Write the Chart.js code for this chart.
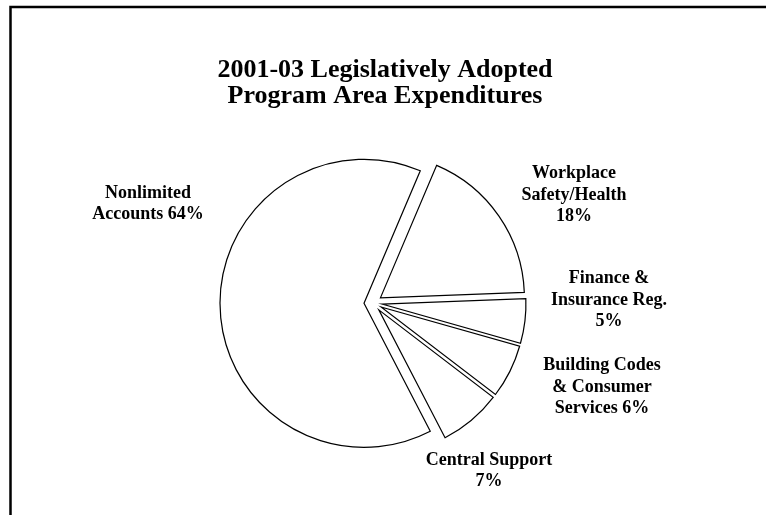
<!DOCTYPE html>
<html>
<head>
<meta charset="utf-8">
<script src="https://cdn.jsdelivr.net/npm/chart.js@4.4.1/dist/chart.umd.min.js"></script>
<style>
  html, body { margin: 0; padding: 0; background: #fff; }
  #wrap { position: relative; width: 766px; height: 515px; }
</style>
</head>
<body>
<div id="wrap"><canvas id="pie" width="766" height="515"></canvas></div>
<script>
// 2001-03 program area shares (percent of total)
const categories = [
  "Workplace Safety/Health",
  "Finance & Insurance Reg.",
  "Building Codes & Consumer Services",
  "Central Support",
  "Nonlimited Accounts",
];
const shares = [18, 5, 6, 7, 64];

// how each slice label breaks into lines; {v} is the share
const labelText = [
  "Workplace\nSafety/Health\n{v}%",
  "Finance &\nInsurance Reg.\n{v}%",
  "Building Codes\n& Consumer\nServices {v}%",
  "Central Support\n{v}%",
  "Nonlimited\nAccounts {v}%",
];

const titleLines = ["2001-03 Legislatively Adopted", "Program Area Expenditures"];

// label block centres, relative to the pie centre
const labelOffsets = [
  [201, -108],
  [236, -3],
  [229, 84],
  [116, 168],
  [-225, -99],
];

const serif = "'Liberation Serif', 'Times New Roman', serif";

// pie slice that is pulled straight out along its middle angle
class ExplodedArc extends Chart.ArcElement {
  draw(ctx) {
    const { x, y, startAngle, endAngle, outerRadius, options } = this;
    const mid = (startAngle + endAngle) / 2;
    const shift = options.offset || 0;
    ctx.save();
    ctx.translate(Math.cos(mid) * shift, Math.sin(mid) * shift);
    ctx.beginPath();
    ctx.moveTo(x, y);
    ctx.arc(x, y, outerRadius, startAngle, endAngle);
    ctx.closePath();
    ctx.fillStyle = options.backgroundColor;
    ctx.fill();
    ctx.lineWidth = options.borderWidth;
    ctx.strokeStyle = options.borderColor;
    ctx.lineJoin = "miter";
    ctx.stroke();
    ctx.restore();
  }
}
ExplodedArc.id = "explodedArc";
Chart.register(ExplodedArc);
Chart.defaults.datasets.pie.dataElementType = "explodedArc";

const frameAndText = {
  id: "frameAndText",
  beforeDraw(chart) {
    const ctx = chart.ctx;
    ctx.save();
    ctx.fillStyle = "#fff";
    ctx.fillRect(0, 0, chart.width, chart.height);
    ctx.restore();
  },
  afterDraw(chart) {
    const ctx = chart.ctx;
    ctx.save();

    // page frame (left and top edges)
    ctx.strokeStyle = "#000";
    ctx.lineWidth = 2.5;
    ctx.beginPath();
    ctx.moveTo(10.5, chart.height);
    ctx.lineTo(10.5, 7);
    ctx.lineTo(chart.width, 7);
    ctx.stroke();

    ctx.fillStyle = "#000";
    ctx.textAlign = "center";
    ctx.textBaseline = "middle";

    ctx.font = "bold 26px " + serif;
    titleLines.forEach((t, i) => ctx.fillText(t, 385, 70 + i * 26));

    const arcs = chart.getDatasetMeta(0).data;
    const cx = arcs[0].x;
    const cy = arcs[0].y;
    ctx.font = "bold 18px " + serif;
    labelText.forEach((tpl, i) => {
      const lines = tpl.replace("{v}", shares[i]).split("\n");
      const lh = 21.5;
      const x = cx + labelOffsets[i][0];
      const y0 = cy + labelOffsets[i][1] - ((lines.length - 1) * lh) / 2;
      lines.forEach((ln, j) => ctx.fillText(ln, x, y0 + j * lh));
    });
    ctx.restore();
  },
};

new Chart(document.getElementById("pie"), {
  type: "pie",
  data: {
    labels: categories,
    datasets: [
      {
        data: shares,
        backgroundColor: "#fff",
        borderColor: "#000",
        borderWidth: 1.2,
        offset: 9,
      },
    ],
  },
  options: {
    responsive: false,
    animation: false,
    rotation: 23,
    radius: 144,
    layout: { padding: { left: 20, right: 40, top: 100, bottom: 9 } },
    plugins: {
      legend: { display: false },
      tooltip: { enabled: false },
      title: { display: false },
    },
  },
  plugins: [frameAndText],
});
</script>
</body>
</html>
